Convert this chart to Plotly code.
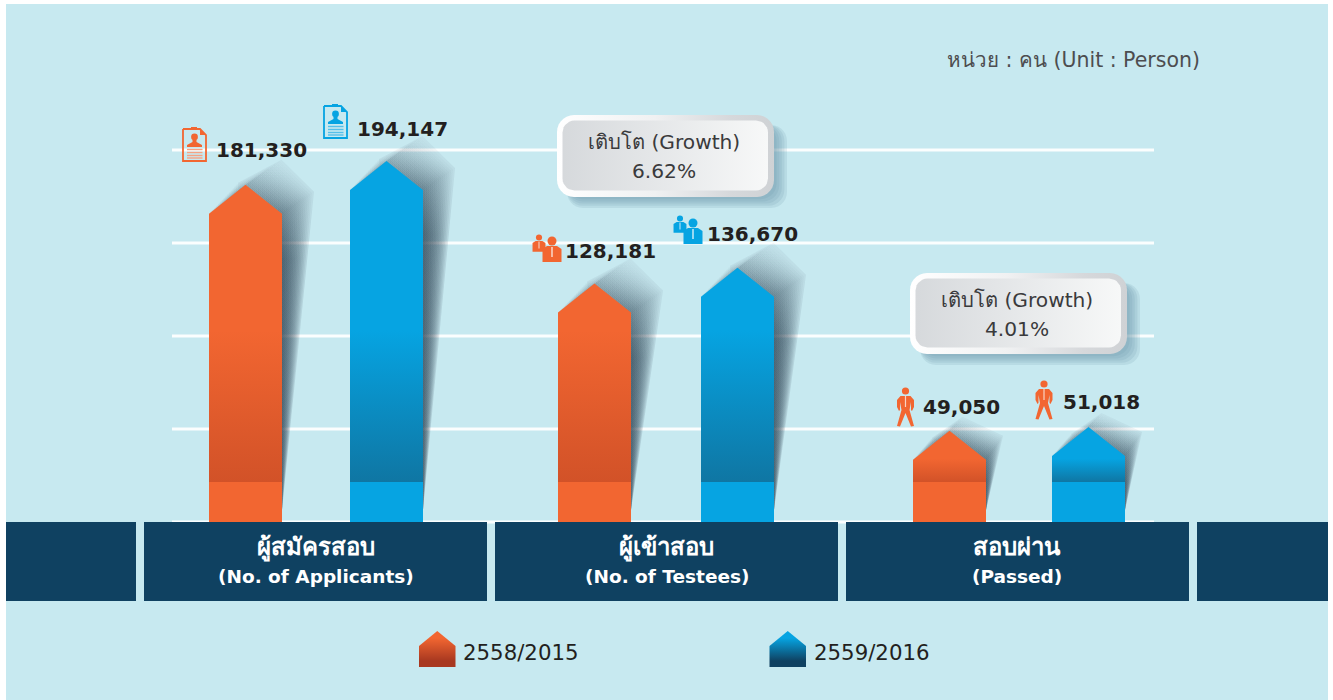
import numpy as np
import plotly.graph_objects as go

# ---------- data ----------
categories_th = ["ผู้สมัครสอบ", "ผู้เข้าสอบ", "สอบผ่าน"]
categories_en = ["(No. of Applicants)", "(No. of Testees)", "(Passed)"]
series_names = ["2558/2015", "2559/2016"]
values_2558 = [181330, 128181, 49050]
values_2559 = [194147, 136670, 51018]
growth_labels = ["6.62%", "4.01%"]
grid_values = [50000, 100000, 150000, 200000]

# ---------- layout constants ----------
W, H = 1333, 700
BASE_PX = 522
PX_PER_UNIT = 93 / 50000
Y_TOP = BASE_PX / PX_PER_UNIT
Y_BOT = (BASE_PX - H) / PX_PER_UNIT
BG = "#C7E9F0"
NAVY = "#0F4161"
ORANGE = "#F26631"
BLUE = "#06A4E2"
INK = "#231F20"
FONT = "DejaVu Sans, Noto Sans, sans-serif"
centers_2558 = [245.5, 594.5, 949.5]
centers_2559 = [386.5, 737.5, 1088.5]
BAR_W = 73
ROOF_UNITS = 29 / PX_PER_UNIT
FOOT_UNITS = 40 / PX_PER_UNIT
grad_start_units = [103000, 103000, 34000]
# left shoulder (dx, dy), peak (dx, dy), right shoulder (dx, dy), in screen pixels
shadow_off = [(29, -31, 36, -25, 32, -22), (29, -31, 36, -25, 32, -22), (19, -22, 13, -14, 17, -24)]


def v(px_y):
    return (BASE_PX - px_y) / PX_PER_UNIT


def px(x):
    return x / W


def py(y):
    return 1 - y / H


fig = go.Figure()


def poly(xs, ys, **kw):
    fig.add_trace(go.Scatter(x=xs, y=ys, mode="lines", fill="toself", line=dict(width=0),
                             hoverinfo="skip", showlegend=False, **kw))


def house(cx, value):
    x0, x1 = cx - BAR_W / 2, cx + BAR_W / 2
    return ([x0, x0, cx, x1, x1, x0], [0, value - ROOF_UNITS, value, value - ROOF_UNITS, 0, 0])


def shadow(cx, value, off):
    x0, x1 = cx - BAR_W / 2, cx + BAR_W / 2
    ldx, ldy, pdx, pdy, rdx, rdy = off
    steps = 16
    du = 1 / PX_PER_UNIT
    low = FOOT_UNITS * 0.3
    inner = value - 2 * ROOF_UNITS
    top = value - pdy * du
    full = max(value - ROOF_UNITS - 45 * du, FOOT_UNITS)
    # faint rim that shows the outline of the shadow
    poly([x0 + ldx, cx + pdx, x1 + rdx, x1, x0 + ldx],
         [value - ROOF_UNITS - ldy * du, top, value - ROOF_UNITS - rdy * du, low, value - ROOF_UNITS - ldy * du],
         fillcolor="rgba(45,68,84,0.035)")
    for k in range(steps, 0, -1):
        t = k / steps
        xs = [x0 + ldx * t, x0 + ldx * t, cx + pdx * t, x1 + rdx * t, x1, x0 + ldx * t]
        ys = [inner,
              value - ROOF_UNITS - ldy * t * du,
              value - pdy * t * du,
              value - ROOF_UNITS - rdy * t * du,
              low, inner]
        poly(xs, ys, fillgradient=dict(type="vertical", start=top, stop=full,
                                       colorscale=[[0, "rgba(45,68,84,0.006)"], [1, "rgba(45,68,84,0.088)"]]))


def bar(cx, value, top, dark, start):
    xs, ys = house(cx, value)
    poly(xs, ys, fillgradient=dict(type="vertical", start=start, stop=FOOT_UNITS,
                                   colorscale=[[0, top], [1, dark]]))
    x0, x1 = cx - BAR_W / 2, cx + BAR_W / 2
    poly([x0, x0, x1, x1, x0], [0, FOOT_UNITS, FOOT_UNITS, 0, 0], fillcolor=top)


for cx, val, off in zip(centers_2558, values_2558, shadow_off):
    shadow(cx, val, off)
for cx, val, off in zip(centers_2559, values_2559, shadow_off):
    shadow(cx, val, off)
for cx, val, st in zip(centers_2558, values_2558, grad_start_units):
    bar(cx, val, ORANGE, "#D25228", st)
for cx, val, st in zip(centers_2559, values_2559, grad_start_units):
    bar(cx, val, BLUE, "#0F76A3", st)


# ---------- callouts ----------
def rrect(x0, y0, x1, y1, r):
    pts = []
    for (cx, cy, a0) in [(x1 - r, y0 + r, -90), (x1 - r, y1 - r, 0), (x0 + r, y1 - r, 90), (x0 + r, y0 + r, 180)]:
        for a in np.radians(np.linspace(a0, a0 + 90, 8)):
            pts.append((cx + r * np.cos(a), cy + r * np.sin(a)))
    pts.append(pts[0])
    return [p[0] for p in pts], [v(p[1]) for p in pts]


def callout(x0, y0, x1, y1):
    for k in range(5, 0, -1):
        xs, ys = rrect(x0 + 10, y0 + 10, x1 + 2.6 * k, y1 + 2.2 * k, 16)
        poly(xs, ys, fillcolor="rgba(105,150,165,0.16)")
    xs, ys = rrect(x0, y0, x1, y1, 17)
    poly(xs, ys, fillgradient=dict(type="horizontal", start=x0, stop=x1,
                                   colorscale=[[0, "#FFFFFF"], [0.45, "#F0F1F2"], [0.8, "#D6D8DB"], [1, "#CFD2D5"]]))
    xs, ys = rrect(x0 + 5.5, y0 + 5.5, x1 - 6, y1 - 6.5, 12)
    poly(xs, ys, fillgradient=dict(type="horizontal", start=x0, stop=x1,
                                   colorscale=[[0, "#D5D8DB"], [1, "#F8F9F9"]]))


callout_boxes = [(557, 115, 774, 197), (910, 273, 1127, 354)]
for b in callout_boxes:
    callout(*b)

# ---------- legend swatches ----------
for x0, top, dark in [(419, ORANGE, "#A83820"), (769.5, BLUE, "#0F4161")]:
    x1 = x0 + 36.5
    xm = (x0 + x1) / 2
    poly([x0, x0, xm, x1, x1, x0], [v(667), v(646), v(631), v(646), v(667), v(667)],
         fillgradient=dict(type="vertical", start=v(638), stop=v(661), colorscale=[[0, top], [1, dark]]))

# ---------- shapes ----------
shapes = [dict(type="rect", xref="paper", yref="paper", x0=px(6), x1=px(1328), y0=py(700), y1=py(4),
               fillcolor=BG, line_width=0, layer="below")]
for gv in [0] + grid_values:
    shapes.append(dict(type="line", xref="x", yref="y", x0=172, x1=1154, y0=gv, y1=gv,
                       line=dict(color="#FBFEFE", width=3), layer="below"))
for x0, x1 in [(6, 136), (144, 487), (495, 838), (846, 1189), (1197, 1328)]:
    shapes.append(dict(type="rect", xref="paper", yref="paper", x0=px(x0), x1=px(x1), y0=py(601), y1=py(522),
                       fillcolor=NAVY, line_width=0, layer="above"))


def path(points, color, width=0, fill=True):
    d = "M " + " L ".join(f"{px(x):.5f},{py(y):.5f}" for x, y in points) + (" Z" if fill else "")
    shapes.append(dict(type="path", xref="paper", yref="paper", path=d,
                       fillcolor=color if fill else "rgba(0,0,0,0)",
                       line=dict(color=color, width=width), layer="above"))


def circle(cx, cy, r, color):
    shapes.append(dict(type="circle", xref="paper", yref="paper", x0=px(cx - r), x1=px(cx + r),
                       y0=py(cy + r), y1=py(cy - r), fillcolor=color, line_width=0, layer="above"))


def clipboard(x, y, color, pale):
    # x, y = top-left corner of the sheet
    path([(x + 1, y + 1), (x + 18, y + 1), (x + 24, y + 7), (x + 24, y + 33), (x + 1, y + 33), (x + 1, y + 1)], color, 1.8, fill=False)
    path([(x + 9, y - 1), (x + 15, y - 1), (x + 15, y + 2), (x + 9, y + 2)], color)
    path([(x + 18, y + 1), (x + 24, y + 7), (x + 18, y + 7)], color)
    circle(x + 12.5, y + 9, 3.4, color)
    path([(x + 10.5, y + 12), (x + 14.5, y + 12), (x + 14.5, y + 14), (x + 20, y + 17), (x + 20, y + 19),
          (x + 5, y + 19), (x + 5, y + 17), (x + 10.5, y + 14)], color)
    for ly in (21.5, 24.5, 27.5, 30):
        path([(x + 5, y + ly), (x + 20.5, y + ly)], pale, 1.4, fill=False)


def bust(cx, cy, s, color):
    # cx, cy = head centre; s = scale
    circle(cx, cy, 4.5 * s, color)
    path([(cx - 5 * s, cy + 5 * s), (cx + 5 * s, cy + 5 * s), (cx + 9.5 * s, cy + 8 * s), (cx + 9.5 * s, cy + 21 * s),
          (cx - 9.5 * s, cy + 21 * s), (cx - 9.5 * s, cy + 8 * s)], color)
    path([(cx - 0.8 * s, cy + 6 * s), (cx + 0.8 * s, cy + 6 * s), (cx + 0.8 * s, cy + 16 * s), (cx - 0.8 * s, cy + 16 * s)], "#F9D3C3" if color == ORANGE else "#BFE6F7")


def walker(cx, cy, color):
    circle(cx, cy, 3.6, color)
    path([(cx - 5, cy + 5), (cx + 5, cy + 5), (cx + 8.5, cy + 9), (cx + 8.5, cy + 16), (cx + 6.5, cy + 20),
          (cx + 5.5, cy + 19), (cx + 5.5, cy + 11), (cx + 4, cy + 19), (cx + 8.5, cy + 35), (cx + 5.5, cy + 35.5),
          (cx, cy + 22), (cx - 5.5, cy + 35.5), (cx - 8.5, cy + 35), (cx - 4, cy + 19), (cx - 5.5, cy + 11),
          (cx - 5.5, cy + 19), (cx - 6.5, cy + 20), (cx - 8.5, cy + 16), (cx - 8.5, cy + 9)], color)
    path([(cx - 0.6, cy + 5), (cx + 0.6, cy + 5), (cx + 0.6, cy + 16), (cx - 0.6, cy + 16)], "#F9D3C3")


clipboard(182, 128, ORANGE, "#F6A283")
clipboard(323, 105, BLUE, "#55BFE9")
bust(539, 237.5, 0.68, ORANGE)
bust(552, 241, 1.0, ORANGE)
bust(680, 218.5, 0.68, BLUE)
bust(693, 223, 1.0, BLUE)
walker(905.5, 391, ORANGE)
walker(1044, 384, ORANGE)

# ---------- text ----------
ann = []


def text(x, y, s, size, color=INK, anchor="center", weight=None):
    t = f"<b>{s}</b>" if weight else s
    ann.append(dict(xref="paper", yref="paper", x=px(x), y=py(y), text=t, showarrow=False, xanchor=anchor,
                    yanchor="middle", align="center", font=dict(family=FONT, size=size, color=color)))


label_pos = [(213.5, 150.5), (562.5, 251.5), (920.5, 406.5), (354.5, 128.5), (704.5, 234.5), (1060.5, 401.5)]
for (lx, ly), val in zip(label_pos, values_2558 + values_2559):
    text(lx, ly, f"{val:,}", 20, anchor="left", weight=True)

text(945, 60, "หน่วย : คน (Unit : Person)", 20.5, color="#4D4D4F", anchor="left")

for th, en, cx in zip(categories_th, categories_en, [315.5, 666.5, 1017.5]):
    text(cx, 547, th, 24, color="#FFFFFF", weight=True)
    text(cx, 576, en, 18.5, color="#FFFFFF", weight=True)

for g, (cx, y0) in zip(growth_labels, [(664, 142), (1017, 300)]):
    text(cx, y0, "เติบโต (Growth)", 20.2, color="#3A3A3C")
    text(cx, y0 + 29, g, 20.2, color="#3A3A3C")

text(461, 652, series_names[0], 21.3, anchor="left")
text(811.5, 652, series_names[1], 21.3, anchor="left")

fig.update_layout(
    width=W, height=H, autosize=False,
    margin=dict(l=0, r=0, t=0, b=0),
    paper_bgcolor="#FFFFFF", plot_bgcolor="rgba(0,0,0,0)",
    showlegend=False,
    xaxis=dict(range=[0, W], visible=False, fixedrange=True),
    yaxis=dict(range=[Y_BOT, Y_TOP], visible=False, fixedrange=True),
    shapes=shapes, annotations=ann,
)

fig.write_html("out.html", config=dict(displayModeBar=False),
               post_script="document.body.style.margin='0';document.body.style.overflow='hidden';")
